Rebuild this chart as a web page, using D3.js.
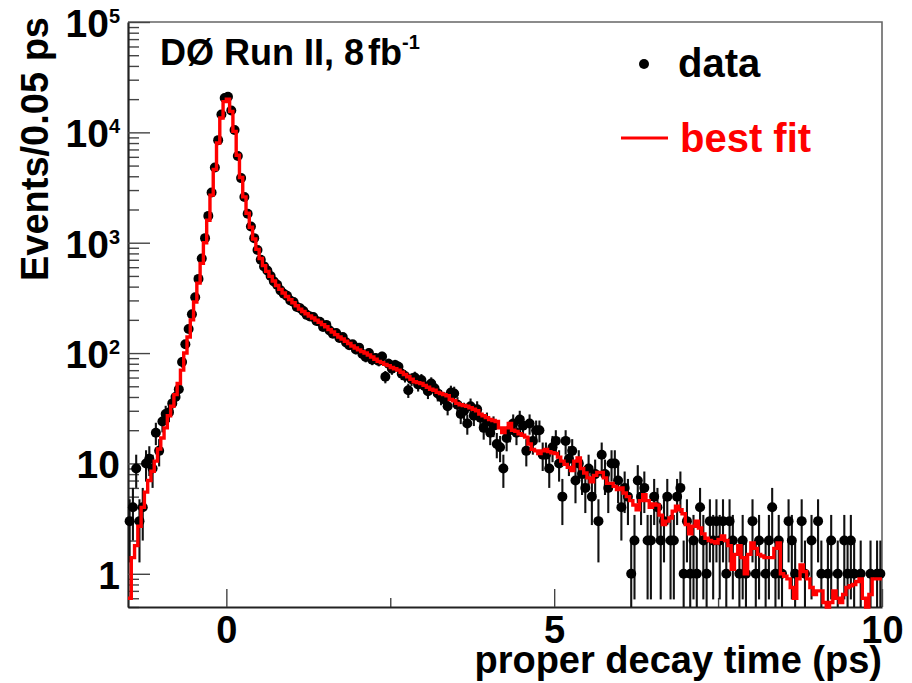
<!DOCTYPE html>
<html>
<head>
<meta charset="utf-8">
<script src="https://cdn.jsdelivr.net/npm/d3@7"></script>
<style>
  body { margin: 0; background: #fff; }
  svg { display: block; }
  text { font-family: "Liberation Sans", Arial, sans-serif; font-weight: bold; fill: #000; }
</style>
</head>
<body>
<svg id="chart"></svg>
<script>
// histogram binning (ps)
var binLow = -1.5,
    binWidth = 0.05;

// events per 0.05 ps bin (230 bins from -1.5 to 10 ps)
var counts = [
  3, 4, 9, 3, 4, 10, 11, 9, 19, 13,
  24, 28, 29, 35, 40, 47, 83, 120, 165, 225,
  320, 470, 720, 1100, 1750, 2850, 4800, 8500, 14500, 20500,
  21000, 15800, 10500, 6100, 3850, 2600, 1830, 1400, 1100, 860,
  700, 610, 560, 500, 445, 415, 370, 345, 330, 300,
  290, 262, 255, 240, 222, 215, 212, 195, 192, 172,
  180, 160, 150, 152, 137, 140, 125, 118, 120, 108,
  112, 98, 92, 100, 87, 90, 85, 93, 61, 80,
  72, 78, 75, 65, 62, 46, 58, 60, 52, 57,
  50, 45, 53, 48, 43, 40, 38, 33, 44, 43,
  34, 28, 30, 23, 33, 27, 31, 26, 21, 24,
  19, 22, 15, 14, 9, 17, 20, 23, 19, 25,
  22, 13, 23, 16, 20, 20, 12, 12, 9, 14,
  16, 10, 5, 16, 11, 13, 7, 10, 8, 6,
  9, 5, 8, 3, 12, 8, 6, 10, 10, 7,
  4, 6, 5, 1, 2, 7, 5, 6, 2, 2,
  5, 4, 2, 3, 5, 2, 2, 5, 6, 1,
  3, 1, 2, 1, 4, 2, 1, 3, 2, 3,
  2, 3, 1, 3, 2, 0, 1, 2, 1, 0,
  3, 1, 2, 0, 1, 2, 4, 1, 2, 1,
  0, 3, 2, 1, 0, 3, 1, 0, 2, 0,
  3, 1, 0, 1, 2, 0, 1, 0, 2, 1,
  2, 1, 0, 1, 0, 0, 1, 0, 1, 1
];

// best fit value per bin
var fitValues = [
  0.6, 1.4, 1.8, 2.7, 4.0, 5.5, 7.0, 8.5, 10.5, 13.5,
  17, 21, 27, 33, 42, 53, 70, 100, 140, 200,
  290, 430, 650, 1000, 1600, 2700, 4600, 8000, 13500, 19000,
  20000, 15500, 10200, 6200, 3900, 2600, 1850, 1380, 1080, 870,
  720, 620, 550, 495, 450, 410, 378, 350, 326, 305,
  286, 268, 250, 238, 227, 217, 208, 199, 190, 181,
  173, 163, 155, 147, 140, 134, 128, 122, 116, 111,
  107, 103, 100, 96, 92, 88, 84, 82, 79, 77,
  74, 72, 70, 67, 64, 61, 58, 55, 54, 53,
  51, 49, 47, 46, 44, 43, 42, 41, 38, 37,
  35, 34, 33.5, 33, 32, 31, 30, 28, 27, 26,
  25, 24.5, 24, 21, 19, 21, 23, 20, 19.5, 18.6,
  18, 17.3, 15, 13.4, 13, 12.3, 13, 13.4, 12.8, 12.5,
  12.3, 11.4, 10.5, 9.8, 9.2, 8.6, 10.5, 11.2, 9.0, 8.2,
  7.4, 6.8, 7.8, 8.3, 8.3, 7.4, 6.6, 6.6, 6.2, 5.8,
  6.0, 5.4, 5.0, 4.6, 4.2, 3.8, 4.6, 5.2, 4.6, 4.0,
  4.3, 4.2, 3.4, 2.8, 3.0, 3.2, 3.7, 4.1, 3.8, 3.5,
  2.8, 2.3, 2.7, 3.0, 2.6, 2.3, 2.1, 2.0, 1.95, 1.9,
  2.05, 2.2, 2.0, 1.8, 1.1, 1.5, 1.8, 1.4, 1.0, 1.5,
  1.9, 1.7, 1.5, 1.45, 1.4, 1.4, 1.4, 1.7, 1.9, 1.0,
  0.95, 0.9, 0.75, 0.6, 0.9, 1.2, 1.05, 0.9, 0.75, 0.65,
  0.7, 0.7, 0.55, 0.4, 0.55, 0.7, 0.6, 0.55, 0.65, 0.75,
  0.78, 0.8, 0.85, 0.9, 0.6, 0.4, 0.65, 0.9, 0.9, 0.9
];

// axis ticks and labels
var xTicks = [0, 5, 10];
var xMinorTicks = [2.5, 7.5];
var yDecades = [1, 10, 100, 1000, 10000, 100000];
var yLabelBase = ["1", "10", "10", "10", "10", "10"];
var yLabelExp = ["", "", "2", "3", "4", "5"];

// canvas
var margin = {top: 22, right: 30, bottom: 76, left: 128},
    width = 912 - margin.left - margin.right,
    height = 683 - margin.top - margin.bottom;

var x = d3.scaleLinear()
    .domain([binLow, binLow + binWidth * counts.length])
    .range([0, width]);

var y = d3.scaleLog()
    .domain([0.5, 1e5])
    .range([height, 0])
    .clamp(true);

var svg = d3.select("#chart")
    .attr("width", 912)
    .attr("height", 683);

svg.append("rect")
    .attr("width", 912).attr("height", 683)
    .style("fill", "#fff");

var chart = svg.append("g")
    .attr("transform", "translate(" + margin.left + "," + margin.top + ")");

// frame top / right
chart.append("path")
    .attr("d", "M0,0H" + width + "V" + height)
    .style("fill", "none")
    .style("stroke", "#666")
    .style("stroke-width", 1.6);

// y axis: minor and major ticks pointing inward
var minorY = y.ticks().filter(function(v) {
  return Math.abs(Math.log10(v) - Math.round(Math.log10(v))) > 1e-6;
});

chart.append("g")
    .call(d3.axisLeft(y).tickValues(minorY).tickSize(-11).tickSizeOuter(0).tickFormat(""))
    .call(function(g) { g.select(".domain").remove(); })
    .selectAll("line").style("stroke", "#444").style("stroke-width", 1.4);

chart.append("g")
    .call(d3.axisLeft(y).tickValues(yDecades).tickSize(-22).tickSizeOuter(0).tickFormat(""))
    .call(function(g) {
      g.select(".domain").style("stroke", "#222").style("stroke-width", 2.2);
    })
    .selectAll("line").style("stroke", "#444").style("stroke-width", 1.4);

// y labels with exponents
var yLab = chart.append("g").selectAll("text")
    .data(yDecades)
  .enter().append("text")
    .attr("x", -8)
    .attr("y", function(d) { return y(d) + 15; })
    .style("text-anchor", "end")
    .style("font-size", "39px");

yLab.append("tspan")
    .text(function(d, i) { return yLabelBase[i]; });

yLab.append("tspan")
    .attr("dy", -14)
    .style("font-size", "20px")
    .text(function(d, i) { return yLabelExp[i]; });

// x axis
chart.append("g")
    .attr("transform", "translate(0," + height + ")")
    .call(d3.axisBottom(x).tickValues(xMinorTicks).tickSize(-9).tickSizeOuter(0).tickFormat(""))
    .call(function(g) { g.select(".domain").remove(); })
    .selectAll("line").style("stroke", "#444").style("stroke-width", 1.4);

var xAxis = chart.append("g")
    .attr("transform", "translate(0," + height + ")")
    .call(d3.axisBottom(x).tickValues(xTicks).tickSize(-18).tickSizeOuter(0)
      .tickPadding(9).tickFormat(d3.format("d")));

xAxis.select(".domain").style("stroke", "#222").style("stroke-width", 2.2);
xAxis.selectAll("line").style("stroke", "#444").style("stroke-width", 1.4);
xAxis.selectAll("text")
    .style("font-family", "'Liberation Sans', Arial, sans-serif")
    .style("font-weight", "bold")
    .style("font-size", "38px")
    .style("fill", "#000");

// data points with poisson error bars
var dataPts = counts.map(function(n, i) {
  return {lo: binLow + binWidth * i, n: n};
}).filter(function(d) { return d.n > 0; });

var pts = chart.append("g").attr("class", "data");

pts.selectAll(".ev")
    .data(dataPts)
  .enter().append("line")
    .attr("class", "ev")
    .attr("x1", function(d) { return x(d.lo + binWidth / 2); })
    .attr("x2", function(d) { return x(d.lo + binWidth / 2); })
    .attr("y1", function(d) { return y(Math.max(d.n - Math.sqrt(d.n), 1e-3)); })
    .attr("y2", function(d) { return y(d.n + Math.sqrt(d.n)); })
    .style("stroke", "#111")
    .style("stroke-width", 2.1);

pts.selectAll(".eh")
    .data(dataPts)
  .enter().append("line")
    .attr("class", "eh")
    .attr("x1", function(d) { return x(d.lo); })
    .attr("x2", function(d) { return x(d.lo + binWidth); })
    .attr("y1", function(d) { return y(d.n); })
    .attr("y2", function(d) { return y(d.n); })
    .style("stroke", "#111")
    .style("stroke-width", 2.1);

pts.selectAll("circle")
    .data(dataPts)
  .enter().append("circle")
    .attr("cx", function(d) { return x(d.lo + binWidth / 2); })
    .attr("cy", function(d) { return y(d.n); })
    .attr("r", 5)
    .style("fill", "#000");

// best fit as histogram steps
var fitPts = fitValues.map(function(v, i) { return [binLow + binWidth * i, v]; });
fitPts.push([binLow + binWidth * fitValues.length, fitValues[fitValues.length - 1]]);

var fitLine = d3.line()
    .curve(d3.curveStepAfter)
    .x(function(d) { return x(d[0]); })
    .y(function(d) { return y(d[1]); });

chart.append("path")
    .datum(fitPts)
    .attr("d", fitLine)
    .style("fill", "none")
    .style("stroke", "#ff0000")
    .style("stroke-width", 3.4)
    .style("stroke-linejoin", "miter");

// axis titles
svg.append("text")
    .attr("x", 882)
    .attr("y", 673)
    .style("text-anchor", "end")
    .style("font-size", "38px")
    .text("proper decay time (ps)");

svg.append("text")
    .attr("transform", "translate(48,17) rotate(-90)")
    .style("text-anchor", "end")
    .style("font-size", "38px")
    .text("Events/0.05 ps");

// experiment label
var label = svg.append("text")
    .attr("x", 160)
    .attr("y", 65)
    .style("font-size", "36px");
label.append("tspan").text("DØ Run II, 8");
label.append("tspan").attr("dx", 4).text("fb");
label.append("tspan").attr("dy", -16).style("font-size", "20px").text("-1");

// legend
svg.append("circle")
    .attr("cx", 644).attr("cy", 64).attr("r", 5)
    .style("fill", "#000");
svg.append("text")
    .attr("x", 678).attr("y", 77)
    .style("font-size", "40px")
    .text("data");

svg.append("line")
    .attr("x1", 621).attr("x2", 668)
    .attr("y1", 138).attr("y2", 138)
    .style("stroke", "#ff0000")
    .style("stroke-width", 3);
svg.append("text")
    .attr("x", 680).attr("y", 152)
    .style("font-size", "40px")
    .style("fill", "#ff0000")
    .text("best fit");
</script>
</body>
</html>
